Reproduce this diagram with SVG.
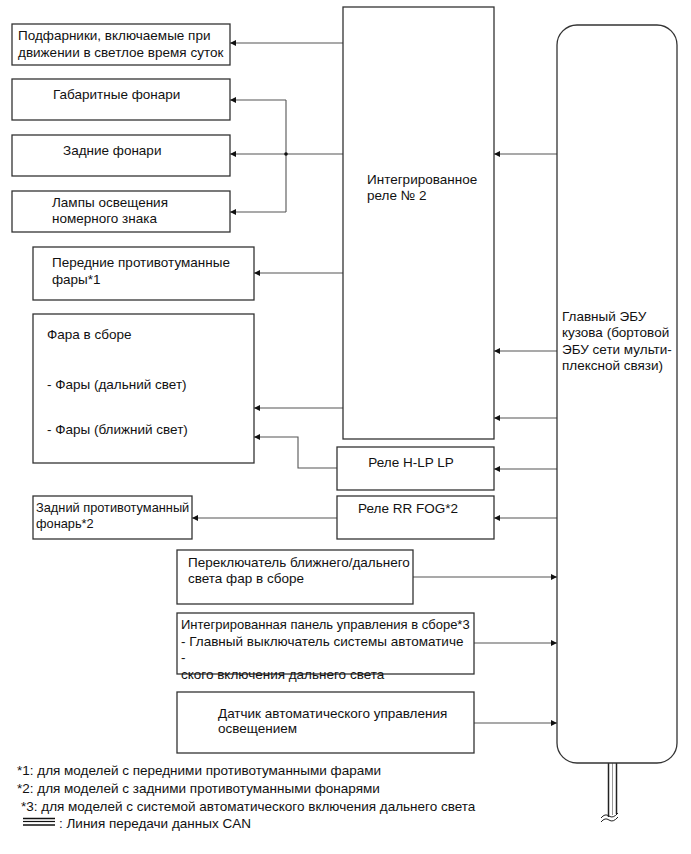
<svg xmlns="http://www.w3.org/2000/svg" width="691" height="854" viewBox="0 0 691 854">
<defs>
<marker id="ah" viewBox="0 0 10 10" refX="10" refY="5" markerWidth="10" markerHeight="6" markerUnits="userSpaceOnUse" orient="auto">
<path d="M0,0 L10,5 L0,10 Z" fill="#111"/>
</marker>
</defs>
<style>
.box{fill:#fff;stroke:#333;stroke-width:1.3}
.t{font-family:"Liberation Sans",Arial,sans-serif;font-size:13.5px;fill:#111}
.s{font-size:12.8px}
.c{fill:none;stroke:#555;stroke-width:1.1}
.a{fill:none;stroke:#555;stroke-width:1.1;marker-end:url(#ah)}
</style>
<rect width="691" height="854" fill="#fff"/>

<g id="connectors">
<line class="a" x1="343" y1="43" x2="230" y2="43"/>
<line class="c" x1="343" y1="154" x2="286" y2="154"/>
<line class="c" x1="286" y1="100" x2="286" y2="212"/>
<line class="a" x1="286" y1="100" x2="230" y2="100"/>
<line class="a" x1="286" y1="154" x2="230" y2="154"/>
<line class="a" x1="286" y1="212" x2="230" y2="212"/>
<circle cx="286" cy="154" r="1.8" fill="#111"/>
<line class="a" x1="343" y1="273" x2="254" y2="273"/>
<line class="a" x1="343" y1="408" x2="254" y2="408"/>
<polyline class="a" points="337,468 298,468 298,437 254,437"/>
<line class="a" x1="337" y1="518" x2="192" y2="518"/>
<line class="a" x1="557" y1="154" x2="494" y2="154"/>
<line class="a" x1="557" y1="351" x2="494" y2="351"/>
<line class="a" x1="557" y1="418" x2="494" y2="418"/>
<line class="a" x1="557" y1="469" x2="494" y2="469"/>
<line class="a" x1="557" y1="518" x2="494" y2="518"/>
<line class="a" x1="413" y1="577" x2="557" y2="577"/>
<line class="a" x1="474" y1="643" x2="557" y2="643"/>
<line class="a" x1="474" y1="723" x2="557" y2="723"/>
<g id="can">
<line x1="612.5" y1="763" x2="612.5" y2="815" stroke="#999" stroke-width="1"/>
<line x1="608.5" y1="763" x2="608.5" y2="817" stroke="#222" stroke-width="1.5"/>
<line x1="616.5" y1="763" x2="616.5" y2="814" stroke="#222" stroke-width="1.5"/>
<path d="M601,818 Q605,813 609,816 T618,813" fill="none" stroke="#222" stroke-width="1"/>
<path d="M601,822 Q605,817 609,820 T618,817" fill="none" stroke="#222" stroke-width="1"/>
</g>
</g>

<g id="n-drl">
<rect class="box" x="12" y="24" width="218" height="41"/>
<text class="t" x="18" y="39.5">Подфарники, включаемые при</text>
<text class="t" x="18" y="57">движении в светлое время суток</text>
</g>
<g id="n-clearance">
<rect class="box" x="12" y="79" width="218" height="41"/>
<text class="t" x="53" y="99">Габаритные фонари</text>
</g>
<g id="n-tail">
<rect class="box" x="12" y="135" width="218" height="41"/>
<text class="t" x="63" y="155">Задние фонари</text>
</g>
<g id="n-plate">
<rect class="box" x="12" y="191" width="218" height="41"/>
<text class="t" x="52" y="207">Лампы освещения</text>
<text class="t" x="52" y="223">номерного знака</text>
</g>
<g id="n-frontfog">
<rect class="box" x="33" y="247" width="221" height="53"/>
<text class="t" x="52" y="267">Передние противотуманные</text>
<text class="t" x="52" y="284">фары*1</text>
</g>
<g id="n-headlamp">
<rect class="box" x="33" y="314" width="221" height="149"/>
<text class="t" x="47" y="339">Фара в сборе</text>
<text class="t" x="47" y="389">- Фары (дальний свет)</text>
<text class="t" x="47" y="434">- Фары (ближний свет)</text>
</g>
<g id="n-relay2">
<rect class="box" x="343" y="7" width="151" height="432"/>
<text class="t" x="367" y="184">Интегрированное</text>
<text class="t" x="367" y="200">реле № 2</text>
</g>
<g id="n-hlp">
<rect class="box" x="337" y="447" width="157" height="43"/>
<text class="t" x="411" y="467" text-anchor="middle">Реле H-LP LP</text>
</g>
<g id="n-rrfogrelay">
<rect class="box" x="337" y="496" width="157" height="43"/>
<text class="t" x="408" y="513" text-anchor="middle">Реле RR FOG*2</text>
</g>
<g id="n-rearfog">
<rect class="box" x="33" y="496" width="159" height="43"/>
<text class="t s" x="36" y="512">Задний противотуманный</text>
<text class="t s" x="36" y="528">фонарь*2</text>
</g>
<g id="n-switch">
<rect class="box" x="177" y="550" width="236" height="54"/>
<text class="t" x="188" y="567">Переключатель ближнего/дальнего</text>
<text class="t" x="188" y="583">света фар в сборе</text>
</g>
<g id="n-panel">
<rect class="box" x="177" y="613" width="297" height="61"/>
<text class="t" x="181" y="629" style="font-size:13px">Интегрированная панель управления в сборе*3</text>
<text class="t" x="181" y="645.5">- Главный выключатель системы автоматиче</text>
<text class="t" x="181" y="662">-</text>
<text class="t" x="181" y="678.5">ского включения дальнего света</text>
</g>
<g id="n-sensor">
<rect class="box" x="177" y="692" width="297" height="61"/>
<text class="t" x="218" y="718">Датчик автоматического управления</text>
<text class="t" x="218" y="733">освещением</text>
</g>
<g id="n-ecu">
<rect class="box" x="557" y="25" width="120" height="738" rx="20" ry="20"/>
<text class="t" x="562" y="321">Главный ЭБУ</text>
<text class="t" x="562" y="337">кузова (бортовой</text>
<text class="t" x="562" y="354">ЭБУ сети мульти-</text>
<text class="t" x="562" y="370">плексной связи)</text>
</g>

<g id="legend">
<text class="t" x="17" y="775">*1: для моделей с передними противотуманными фарами</text>
<text class="t" x="17" y="793">*2: для моделей с задними противотуманными фонарями</text>
<text class="t" x="21" y="811">*3: для моделей с системой автоматического включения дальнего света</text>
<line x1="23" y1="818.5" x2="55" y2="818.5" stroke="#111" stroke-width="1.5"/>
<line x1="23" y1="821.5" x2="55" y2="821.5" stroke="#111" stroke-width="1.2"/>
<line x1="23" y1="825" x2="55" y2="825" stroke="#111" stroke-width="1.5"/>
<text class="t" x="59" y="828">: Линия передачи данных CAN</text>
</g>
</svg>
